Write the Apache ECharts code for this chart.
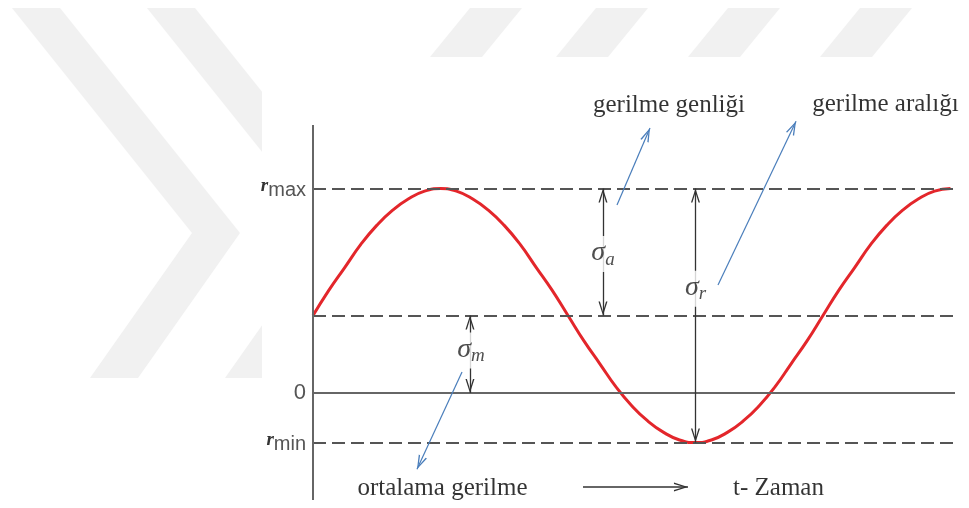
<!DOCTYPE html>
<html>
<head>
<meta charset="utf-8">
<script src="https://cdn.jsdelivr.net/npm/echarts@6/dist/echarts.min.js"></script>
<style>html,body{margin:0;padding:0;background:#fff}#c{width:969px;height:508px}</style>
</head>
<body>
<div id="c"></div>
<script>
// ---- data (time in degrees of phase, stress in units of amplitude) ----
const timeDeg = [0, 11.25, 22.5, 33.75, 45, 56.25, 67.5, 78.75, 90, 101.25, 112.5, 123.75, 135, 146.25, 157.5, 168.75,
                 180, 191.25, 202.5, 213.75, 225, 236.25, 247.5, 258.75, 270, 281.25, 292.5, 303.75, 315, 326.25, 337.5, 348.75,
                 360, 371.25, 382.5, 393.75, 405, 416.25, 427.5, 438.75, 450];
const stress  = [0.61, 0.81, 0.99, 1.17, 1.32, 1.44, 1.53, 1.59, 1.61, 1.59, 1.53, 1.44, 1.32, 1.17, 0.99, 0.81,
                 0.61, 0.41, 0.23, 0.05, -0.10, -0.22, -0.31, -0.37, -0.39, -0.37, -0.31, -0.22, -0.10, 0.05, 0.23, 0.41,
                 0.61, 0.81, 0.99, 1.17, 1.32, 1.44, 1.53, 1.59, 1.61];
const levelMax = 1.61;
const levelMean = 0.61;
const levelZero = 0;
const levelMin = -0.39;
const tickValues = [levelMin, levelZero, levelMax];
const tickNames = ['min', '0', 'max'];
const X_MIN = 0, X_MAX = 453.2;
const Y_MIN = -0.8425, Y_MAX = 2.386, AXIS_TOP = 2.11;
// dimension arrows [x, from, to]
const sigmaA = [204.7, levelMax, levelMean];
const sigmaR = [270, levelMax, levelMin];
const sigmaM = [110.8, levelMean, levelZero];
// annotation pointers [[x0,y0],[x1,y1]] (tip at second point)
const ptrGenlik = [[214.6, 1.48], [237.9, 2.087]];
const ptrAralik = [[285.9, 0.85], [341.0, 2.14]];
const ptrOrtalama = [[105.2, 0.165], [73.4, -0.60]];
const timeArrow = [[190.6, -0.74], [264.7, -0.74]];
// text annotations [x, y, text]
const notes = [
  [251.3, 2.268, 'gerilme genliği'],
  [404.1, 2.275, 'gerilme aralığı'],
  [91.4, -0.748, 'ortalama gerilme'],
  [328.6, -0.748, 't- Zaman']
];
const sigmaLabels = [
  [204.7, 1.094, 'a'],
  [270, 0.82, 'r'],
  [111.5, 0.335, 'm']
];

const GRAY = '#555';
const BLUE = '#4a7ebb';
const ARROW = 'path://M50,0 L100,100 L84,100 L50,28 L16,100 L0,100 Z';

const chart = echarts.init(document.getElementById('c'), null, {renderer: 'canvas'});

function dimArrow(a) {
  return [{coord: [a[0], a[1]], symbol: ARROW}, {coord: [a[0], a[2]], symbol: ARROW}];
}
function pointer(p, color, w) {
  return [{coord: p[0], symbol: 'none', lineStyle: {color: color, width: w}},
          {coord: p[1], symbol: ARROW, lineStyle: {color: color, width: w}}];
}

const wm = '#f1f1f1';
function chev(dx) {
  return [[12+dx,8],[60+dx,8],[240+dx,233],[138+dx,378],[90+dx,378],[192+dx,233]];
}
function stripe(x) {
  return [[x,8],[x+52,8],[x+12,57],[x-40,57]];
}

chart.setOption({
  animation: false,
  backgroundColor: '#fff',
  graphic: [
    {type: 'polygon', z: -10, shape: {points: chev(0)}, style: {fill: wm}},
    {type: 'polygon', z: -10, shape: {points: chev(135)}, style: {fill: wm}},
    {type: 'polygon', z: -10, shape: {points: stripe(470)}, style: {fill: wm}},
    {type: 'polygon', z: -10, shape: {points: stripe(596)}, style: {fill: wm}},
    {type: 'polygon', z: -10, shape: {points: stripe(728)}, style: {fill: wm}},
    {type: 'polygon', z: -10, shape: {points: stripe(860)}, style: {fill: wm}},
    {type: 'rect', z: -9, shape: {x: 262, y: 57, width: 707, height: 451}, style: {fill: '#fff'}}
  ],
  grid: {left: 313, right: 14, top: 90, bottom: 8},
  xAxis: {type: 'value', min: X_MIN, max: X_MAX, show: false},
  yAxis: {
    type: 'value', min: Y_MIN, max: Y_MAX,
    axisLine: {show: false}, axisTick: {show: false}, splitLine: {show: false},
    axisLabel: {
      customValues: tickValues,
      margin: 7,
      formatter: function (v) {
        let i = 0, best = 1e9;
        tickValues.forEach((t, k) => { if (Math.abs(t - v) < best) { best = Math.abs(t - v); i = k; } });
        return tickNames[i] === '0' ? '{z|0}' : '{s|r}{b|' + tickNames[i] + '}';
      },
      rich: {
        s: {fontFamily: 'Liberation Serif', fontStyle: 'italic', fontWeight: 'bold', fontSize: 19, color: '#333', verticalAlign: 'top', lineHeight: 24, padding: [0, 0, 0, 0]},
        b: {fontFamily: 'Liberation Sans', fontSize: 20, color: '#555', verticalAlign: 'bottom', lineHeight: 24},
        z: {fontFamily: 'Liberation Sans', fontSize: 22, color: '#555'}
      }
    }
  },
  series: [
    {
      name: 'levels', type: 'line', data: [], z: 1, silent: true,
      markLine: {
        silent: true, symbol: 'none', label: {show: false},
        lineStyle: {color: GRAY, width: 2, type: [13, 6]},
        data: [
          {yAxis: levelMax},
          {yAxis: levelMean},
          {yAxis: levelMin},
          {yAxis: levelZero, lineStyle: {type: 'solid', color: '#666', width: 2}},
          [{coord: [X_MIN, AXIS_TOP], lineStyle: {type: 'solid', color: '#666', width: 2}}, {coord: [X_MIN, Y_MIN]}]
        ]
      }
    },
    {
      name: 'stress', type: 'line', z: 3, smooth: true, showSymbol: false, silent: true,
      data: timeDeg.map((t, i) => [t, stress[i]]),
      lineStyle: {color: '#e3262b', width: 3}
    },
    {
      name: 'arrows', type: 'line', data: [], z: 4, clip: false, silent: true,
      markLine: {
        silent: true, label: {show: false},
        symbolSize: [9, 14], symbolOffset: [[0, '50%'], [0, '50%']],
        lineStyle: {color: '#333', width: 1.3, type: 'solid'},
        data: [
          dimArrow(sigmaA), dimArrow(sigmaR), dimArrow(sigmaM),
          pointer(ptrGenlik, BLUE, 1.2), pointer(ptrAralik, BLUE, 1.2), pointer(ptrOrtalama, BLUE, 1.2),
          pointer(timeArrow, '#333', 1.6)
        ]
      }
    },
    {
      name: 'sigma', type: 'scatter', z: 10, symbolSize: 0, silent: true,
      data: sigmaLabels.map(s => ({value: [s[0], s[1]], sub: s[2]})),
      label: {
        show: true, position: 'inside', backgroundColor: '#fff', padding: [3, 1],
        textBorderWidth: 0,
        formatter: p => '{s|σ}{b|' + p.data.sub + '}',
        rich: {
          s: {fontFamily: 'Liberation Serif', fontStyle: 'italic', fontSize: 28, color: '#222', textBorderWidth: 0, verticalAlign: 'top', lineHeight: 30},
          b: {fontFamily: 'Liberation Serif', fontStyle: 'italic', fontSize: 19, color: '#222', textBorderWidth: 0, verticalAlign: 'bottom', lineHeight: 30}
        }
      }
    },
    {
      name: 'notes', type: 'scatter', z: 10, symbolSize: 0, silent: true,
      data: notes.map(n => ({value: [n[0], n[1]], txt: n[2]})),
      label: {
        show: true, position: 'inside', formatter: p => p.data.txt,
        fontFamily: 'Liberation Serif', fontSize: 25, color: '#000', textBorderWidth: 0
      }
    }
  ]
});
</script>
</body>
</html>
